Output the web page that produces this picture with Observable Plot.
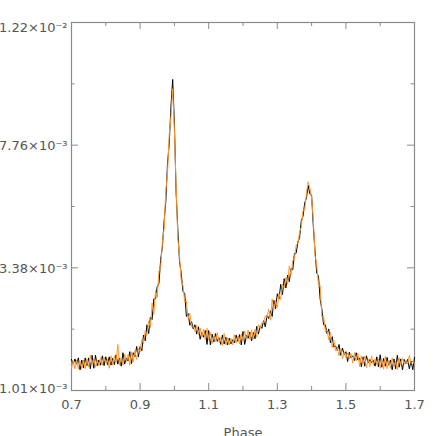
<!DOCTYPE html>
<html><head><meta charset="utf-8">
<script src="https://cdn.jsdelivr.net/npm/d3@7"></script>
<script src="https://cdn.jsdelivr.net/npm/@observablehq/plot@0.6"></script>
<style>html,body{margin:0;padding:0;background:#fff}#chart svg{display:block}</style>
</head><body><div id="chart"></div>
<script>
// Phase samples
const phase = [
0.700,0.705,0.710,0.715,0.720,0.725,0.730,0.735,0.740,0.745,0.750,0.755,0.760,0.765,0.770,0.775,0.780,0.785,0.790,0.795,
0.800,0.805,0.810,0.815,0.820,0.825,0.830,0.835,0.840,0.845,0.850,0.855,0.860,0.865,0.870,0.875,0.880,0.885,0.890,0.895,
0.900,0.905,0.910,0.915,0.920,0.925,0.930,0.935,0.940,0.945,0.950,0.955,0.960,0.965,0.970,0.975,0.980,0.985,0.990,0.995,
1.000,1.005,1.010,1.015,1.020,1.025,1.030,1.035,1.040,1.045,1.050,1.055,1.060,1.065,1.070,1.075,1.080,1.085,1.090,1.095,
1.100,1.105,1.110,1.115,1.120,1.125,1.130,1.135,1.140,1.145,1.150,1.155,1.160,1.165,1.170,1.175,1.180,1.185,1.190,1.195,
1.200,1.205,1.210,1.215,1.220,1.225,1.230,1.235,1.240,1.245,1.250,1.255,1.260,1.265,1.270,1.275,1.280,1.285,1.290,1.295,
1.300,1.305,1.310,1.315,1.320,1.325,1.330,1.335,1.340,1.345,1.350,1.355,1.360,1.365,1.370,1.375,1.380,1.385,1.390,1.395,
1.400,1.405,1.410,1.415,1.420,1.425,1.430,1.435,1.440,1.445,1.450,1.455,1.460,1.465,1.470,1.475,1.480,1.485,1.490,1.495,
1.500,1.505,1.510,1.515,1.520,1.525,1.530,1.535,1.540,1.545,1.550,1.555,1.560,1.565,1.570,1.575,1.580,1.585,1.590,1.595,
1.600,1.605,1.610,1.615,1.620,1.625,1.630,1.635,1.640,1.645,1.650,1.655,1.660,1.665,1.670,1.675,1.680,1.685,1.690,1.695,
1.700];
// Flux, in units of 10^-3 (black series)
const fluxBlack = [
1.61,1.52,1.62,1.52,1.64,1.41,1.60,1.45,1.64,1.49,1.64,1.43,1.69,1.44,1.69,1.49,1.60,1.50,1.68,1.49,
1.66,1.51,1.66,1.50,1.63,1.51,1.70,1.52,1.64,1.48,1.74,1.52,1.64,1.58,1.76,1.53,1.74,1.66,1.86,1.66,
1.86,1.78,2.08,1.97,2.28,2.11,2.43,2.38,2.78,2.78,3.02,3.08,3.68,4.13,5.05,5.76,7.12,7.83,9.17,10.14,
8.56,6.06,4.74,3.60,3.27,2.92,2.89,2.44,2.50,2.27,2.34,2.20,2.28,2.10,2.24,2.00,2.13,2.04,2.17,1.90,
2.17,1.89,2.10,1.95,2.11,1.96,2.03,1.90,2.08,1.91,2.04,1.89,2.02,1.91,1.99,1.93,2.08,1.96,2.09,1.89,
2.15,1.90,2.08,2.02,2.14,1.97,2.13,2.01,2.25,2.10,2.26,2.21,2.36,2.24,2.46,2.40,2.55,2.44,2.75,2.59,
2.88,2.78,3.06,2.86,3.17,2.99,3.24,3.11,3.37,3.34,3.89,3.90,4.30,4.46,5.07,5.22,5.70,5.88,6.32,6.02,
5.98,4.86,3.98,3.28,3.22,2.77,2.58,2.28,2.28,2.11,2.20,1.93,2.05,1.85,1.87,1.78,1.90,1.69,1.83,1.70,
1.76,1.57,1.75,1.64,1.68,1.59,1.74,1.60,1.64,1.47,1.66,1.48,1.68,1.54,1.61,1.55,1.59,1.48,1.66,1.47,
1.70,1.46,1.63,1.48,1.65,1.50,1.60,1.41,1.62,1.43,1.69,1.46,1.62,1.41,1.61,1.53,1.61,1.43,1.58,1.41,
1.65];
// Flux, in units of 10^-3 (orange series)
const fluxOrange = [
1.44,1.58,1.43,1.60,1.43,1.58,1.43,1.60,1.43,1.62,1.46,1.69,1.53,1.62,1.46,1.60,1.49,1.65,1.50,1.66,
1.54,1.61,1.44,1.68,1.50,1.68,1.55,1.90,1.50,1.64,1.50,1.71,1.57,1.70,1.50,1.76,1.56,1.78,1.61,1.82,
1.76,1.99,1.92,2.17,2.08,2.35,2.23,2.70,2.48,2.94,2.81,3.32,3.38,4.29,4.80,6.14,6.78,8.16,8.80,9.80,
8.30,6.28,4.42,3.81,3.12,3.04,2.72,2.74,2.40,2.50,2.24,2.27,2.15,2.27,2.09,2.22,2.04,2.20,1.99,2.21,
1.99,2.13,1.92,2.06,1.96,2.13,1.95,2.03,1.88,2.11,1.89,2.03,1.89,2.02,1.89,2.09,1.93,2.06,1.91,2.10,
1.99,2.16,1.99,2.18,2.00,2.18,2.00,2.19,2.04,2.28,2.21,2.32,2.32,2.45,2.42,2.58,2.37,2.78,2.58,2.75,
2.61,2.88,2.77,3.06,3.00,3.19,3.06,3.45,3.24,3.65,3.70,4.20,4.24,4.67,4.83,5.44,5.44,6.06,6.45,6.23,
5.87,5.10,3.82,3.49,3.05,3.04,2.43,2.45,2.15,2.18,1.99,2.14,1.84,1.98,1.78,1.83,1.68,1.82,1.62,1.75,
1.65,1.74,1.62,1.72,1.54,1.74,1.58,1.73,1.47,1.68,1.54,1.67,1.45,1.61,1.47,1.68,1.51,1.62,1.51,1.62,
1.44,1.61,1.42,1.67,1.43,1.57,1.44,1.64,1.49,1.58,1.41,1.64,1.50,1.64,1.52,1.57,1.52,1.69,1.53,1.58,
1.52];
const yTicks = [1.01, 3.38, 7.76, 12.2];
const yTickLabels = ["1.01×10⁻³", "3.38×10⁻³", "7.76×10⁻³", "1.22×10⁻²"];
const yMinorTicks = [2.195, 5.57, 9.98];
const xTicks = [0.7, 0.9, 1.1, 1.3, 1.5, 1.7];
const xMinorTicks = [0.8, 1.0, 1.2, 1.4, 1.6];

const W = 436, H = 436, mt = 22, mb = 46, ml = 71, mr = 22;
const plotH = H - mt - mb, plotW = W - ml - mr;
const yRange = yTicks.map((_, i) => (H - mb) - i * plotH / (yTicks.length - 1));
const rows = phase.map((p, i) => ({phase: p, black: fluxBlack[i], orange: fluxOrange[i]}));
const lab = d => yTickLabels[yTicks.indexOf(d)];
const tickColor = "#8a8a8a";
const textColor = "#555";

const chart = Plot.plot({
  width: W, height: H,
  marginTop: mt, marginBottom: mb, marginLeft: ml, marginRight: mr,
  style: {fontFamily: "'DejaVu Sans', sans-serif", fontSize: "13px", color: textColor, background: "#fff"},
  x: {domain: [0.7, 1.7]},
  y: {type: "linear", domain: yTicks, range: yRange},
  marks: [
    Plot.frame({stroke: tickColor, strokeWidth: 1.2}),
    Plot.tickX(xTicks, {x: d => d, stroke: tickColor, insetTop: plotH - 7}),
    Plot.tickX(xTicks, {x: d => d, stroke: tickColor, insetBottom: plotH - 7}),
    Plot.tickX(xMinorTicks, {x: d => d, stroke: tickColor, insetTop: plotH - 4}),
    Plot.tickX(xMinorTicks, {x: d => d, stroke: tickColor, insetBottom: plotH - 4}),
    Plot.tickY(yTicks, {y: d => d, stroke: tickColor, insetRight: plotW - 7}),
    Plot.tickY(yTicks, {y: d => d, stroke: tickColor, insetLeft: plotW - 7}),
    Plot.tickY(yMinorTicks, {y: d => d, stroke: tickColor, insetRight: plotW - 3.5}),
    Plot.tickY(yMinorTicks, {y: d => d, stroke: tickColor, insetLeft: plotW - 3.5}),
    Plot.line(rows, {x: "phase", y: "black", stroke: "#000", strokeWidth: 1}),
    Plot.line(rows, {x: "phase", y: "orange", stroke: "#ff9a2e", strokeWidth: 1}),
    Plot.axisX(xTicks, {anchor: "bottom", tickSize: 0, tickPadding: 9, tickFormat: d => d.toFixed(1), label: null, fill: textColor}),
    Plot.axisY(yTicks.slice(1, 3), {anchor: "left", tickSize: 0, tickPadding: 4, tickFormat: lab, label: null, fill: textColor, dy: 1}),
    Plot.axisY([yTicks[3]], {anchor: "left", tickSize: 0, tickPadding: 4, tickFormat: lab, label: null, fill: textColor, dy: 5}),
    Plot.axisY([yTicks[0]], {anchor: "left", tickSize: 0, tickPadding: 4, tickFormat: lab, label: null, fill: textColor, dy: -2}),
    Plot.text(["Phase"], {text: d => d, frameAnchor: "bottom", dy: 37, lineAnchor: "top", fill: textColor})
  ]
});
document.getElementById("chart").appendChild(chart);
</script>
</body></html>
